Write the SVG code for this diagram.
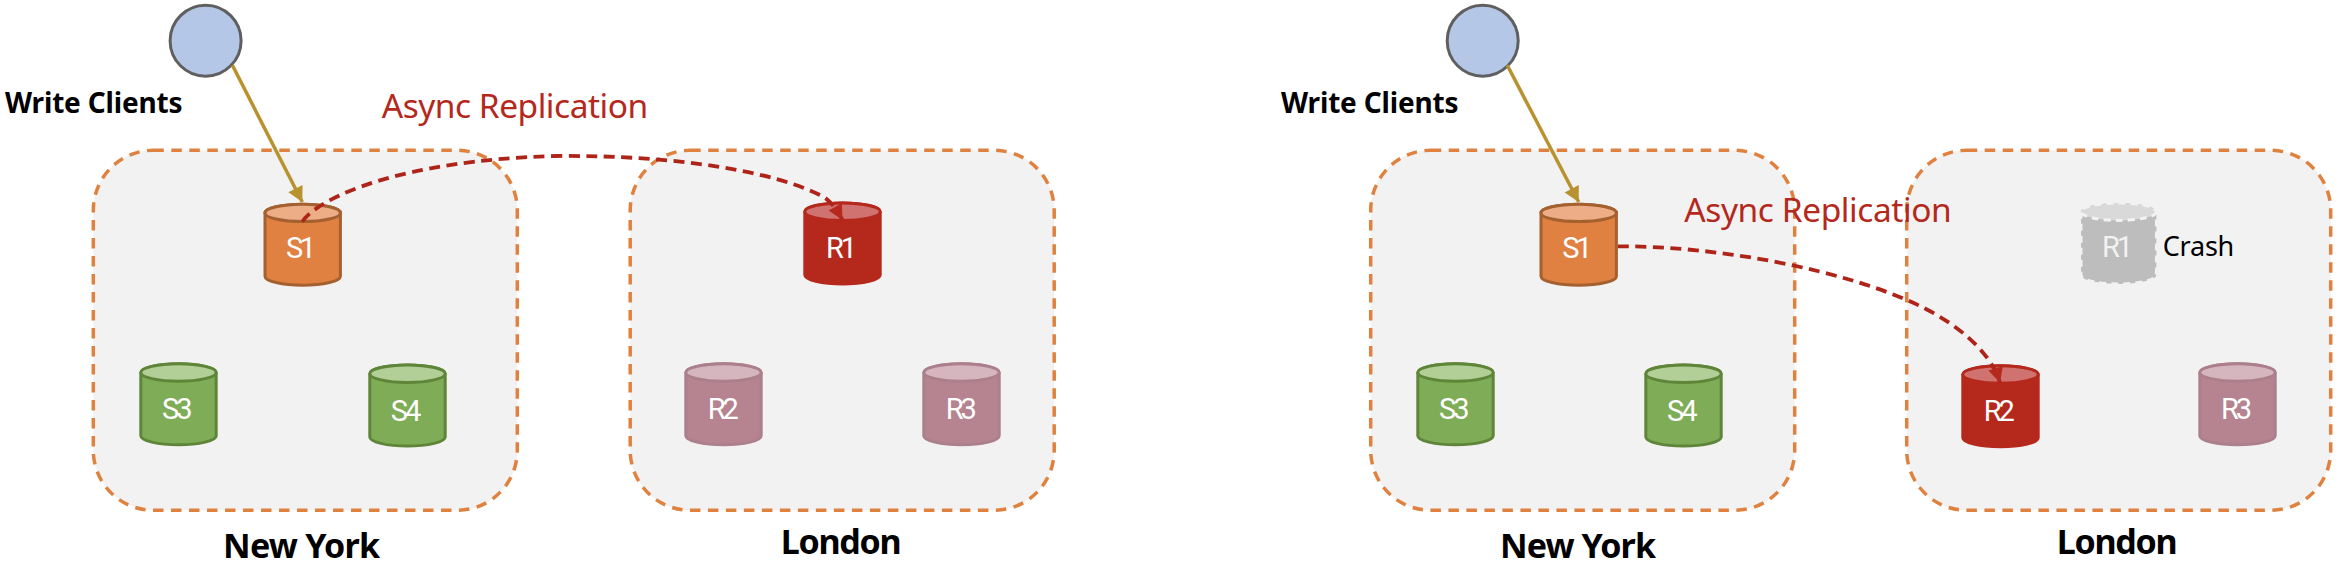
<svg xmlns="http://www.w3.org/2000/svg" width="2350" height="568" viewBox="0 0 2350 568">
<style>
text{font-family:"Noto Sans","Liberation Sans",sans-serif}
.box{fill:#f2f2f2;stroke:#e0823f;stroke-width:3.5;stroke-dasharray:10.5 7.5}
.client{fill:#b4c7e7;stroke:#5f5f5f;stroke-width:3}
.region{font-size:34px;font-weight:700;fill:#000}
.wc{font-size:28px;font-weight:700;fill:#000}
.lbl{font-family:Roboto,"Liberation Sans",sans-serif;font-size:29px;font-weight:400;fill:#fff}
.async{font-size:33.5px;font-weight:400;fill:#b5281c}
.crash{font-size:27px;fill:#000}
.b,.t{stroke-width:3}
.orange .b{fill:#e08041;stroke:#a56030}.orange .t{fill:#edae87;stroke:#a56030}
.green .b{fill:#7fac57;stroke:#5f8539}.green .t{fill:#b1cf96;stroke:#5f8539}
.red .b{fill:#b5291c;stroke:#b5291c}.red .t{fill:#cf7270;stroke:#b5291c}
.pink .b{fill:#b58490;stroke:#ac7f8d}.pink .t{fill:#d5b5be;stroke:#ac7f8d}
.dead .b{fill:#bdbdbd;stroke:#f2f2f2;stroke-dasharray:7 5}.dead .t{fill:#d9d9d9;stroke:#f2f2f2;stroke-dasharray:7 5}
.dead .lbl{fill:#f2f2f2}
.write{fill:none;stroke:#b8922e;stroke-width:3.5;marker-end:url(#ah)}
.rep{fill:none;stroke:#ae2419;stroke-width:3.8;stroke-dasharray:11 6.5;marker-end:url(#ar)}
</style>
<defs>
<path id="cb" d="M-37.7,10.2V73.5A37.7,9 0 0 0 37.7,73.5V10.2A37.7,8.7 0 0 0 -37.7,10.2Z"/>
<ellipse id="ct" cx="0" cy="10.2" rx="37.7" ry="8.7"/>
<marker id="ah" markerUnits="userSpaceOnUse" markerWidth="18" markerHeight="18" refX="16" refY="8" orient="auto"><path d="M1,0L16,8L1,16Z" fill="#b8922e"/></marker>
<marker id="ar" markerUnits="userSpaceOnUse" markerWidth="18" markerHeight="18" refX="16" refY="8" orient="auto"><path d="M1,0.5L16,8L1,15.5Z" fill="#b5281c"/></marker>
</defs>
<g id="ny-left"><rect class="box" x="93.3" y="150.3" width="424" height="360" rx="60" ry="60"/><text class="region" x="223" y="558" textLength="157">New York</text></g>
<g id="london-left"><rect class="box" x="630.2" y="150.3" width="424" height="360" rx="60" ry="60"/><text class="region" x="780.7" y="554" textLength="121">London</text></g>
<g id="ny-right"><rect class="box" x="1370.7" y="150.3" width="424" height="360" rx="60" ry="60"/><text class="region" x="1500" y="558" textLength="156">New York</text></g>
<g id="london-right"><rect class="box" x="1906.7" y="150.3" width="424" height="360" rx="60" ry="60"/><text class="region" x="2056.7" y="554" textLength="121">London</text></g>
<g id="client-left"><circle class="client" cx="205.6" cy="40.7" r="35.5"/><text class="wc" x="5" y="113" textLength="177.5">Write Clients</text></g>
<g id="client-right"><circle class="client" cx="1482.7" cy="40.7" r="35.5"/><text class="wc" x="1281" y="113" textLength="177.5">Write Clients</text></g>
<g id="l-s1" class="orange"><use class="b" href="#cb" x="302.7" y="202.7"/><use class="t" href="#ct" x="302.7" y="202.7"/><text class="lbl" x="286" y="258" textLength="30">S1</text></g>
<g id="l-s3" class="green"><use class="b" href="#cb" x="178.5" y="362.3"/><use class="t" href="#ct" x="178.5" y="362.3"/><text class="lbl" x="162" y="418.7" textLength="30.5">S3</text></g>
<g id="l-s4" class="green"><use class="b" href="#cb" x="407.5" y="363.5"/><use class="t" href="#ct" x="407.5" y="363.5"/><text class="lbl" x="390.7" y="420.7" textLength="30.5">S4</text></g>
<g id="l-r1" class="red"><use class="b" href="#cb" x="842.5" y="201.5"/><use class="t" href="#ct" x="842.5" y="201.5"/><text class="lbl" x="826" y="258" textLength="31">R1</text></g>
<g id="l-r2" class="pink"><use class="b" href="#cb" x="723.5" y="362.3"/><use class="t" href="#ct" x="723.5" y="362.3"/><text class="lbl" x="707.7" y="418.7" textLength="31">R2</text></g>
<g id="l-r3" class="pink"><use class="b" href="#cb" x="961.5" y="362.3"/><use class="t" href="#ct" x="961.5" y="362.3"/><text class="lbl" x="945.7" y="418.7" textLength="31">R3</text></g>
<g id="r-s1" class="orange"><use class="b" href="#cb" x="1578.7" y="202.7"/><use class="t" href="#ct" x="1578.7" y="202.7"/><text class="lbl" x="1562.3" y="258" textLength="30">S1</text></g>
<g id="r-s3" class="green"><use class="b" href="#cb" x="1455.5" y="362.3"/><use class="t" href="#ct" x="1455.5" y="362.3"/><text class="lbl" x="1439" y="418.7" textLength="30.5">S3</text></g>
<g id="r-s4" class="green"><use class="b" href="#cb" x="1683.5" y="363.5"/><use class="t" href="#ct" x="1683.5" y="363.5"/><text class="lbl" x="1667" y="420.7" textLength="30.5">S4</text></g>
<g id="r-r1" class="dead"><use class="b" href="#cb" x="2118.7" y="201.5"/><use class="t" href="#ct" x="2118.7" y="201.5"/><text class="lbl" x="2102" y="257" textLength="31">R1</text><text class="crash" x="2162.7" y="256" textLength="71.6">Crash</text></g>
<g id="r-r2" class="red"><use class="b" href="#cb" x="2000.5" y="364.3"/><use class="t" href="#ct" x="2000.5" y="364.3"/><text class="lbl" x="1983.7" y="420.7" textLength="31">R2</text></g>
<g id="r-r3" class="pink"><use class="b" href="#cb" x="2237.5" y="362.3"/><use class="t" href="#ct" x="2237.5" y="362.3"/><text class="lbl" x="2221" y="418.7" textLength="31">R3</text></g>
<g id="connectors">
<line class="write" x1="232.4" y1="65.3" x2="302.3" y2="202"/>
<line class="write" x1="1507.3" y1="65.3" x2="1578.7" y2="202"/>
<path class="rep" d="M302.3,221.7C318,198 400,160 556,156C680,155 775,172 822,196C830,200 837,210 842.5,220"/>
<path class="rep" d="M1618,246.3C1720,246 1845,270 1920,306C1955,323 1990,350 2000,382.7"/>
</g>
<text id="async-left" class="async" x="381.7" y="118.3" textLength="266.5">Async Replication</text>
<text id="async-right" class="async" x="1684.3" y="221.7" textLength="267.5">Async Replication</text>
</svg>
